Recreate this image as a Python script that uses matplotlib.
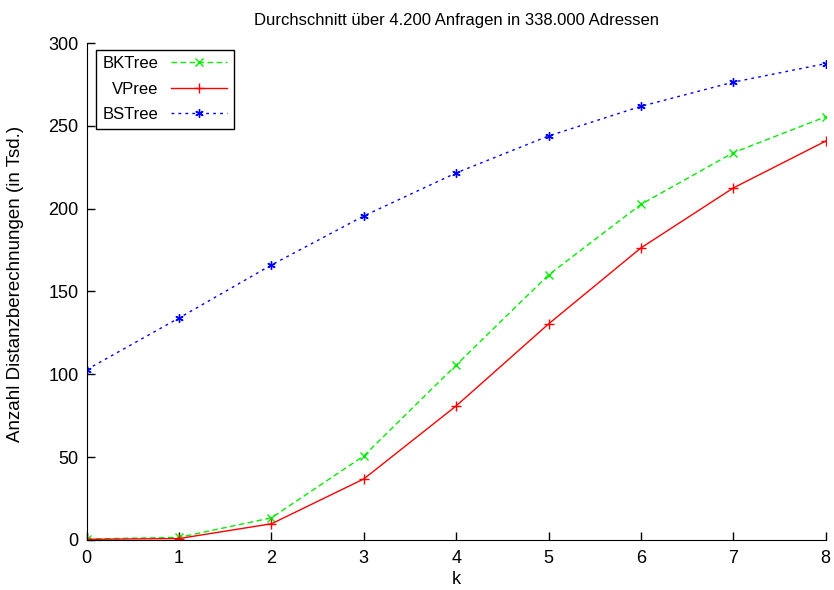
import matplotlib
matplotlib.use("Agg")
import matplotlib.pyplot as plt

# Daten (in Tsd. Distanzberechnungen)
k = [0, 1, 2, 3, 4, 5, 6, 7, 8]
bktree = [0.5, 1.5, 13.3, 50.7, 105.6, 160.0, 202.6, 233.8, 255.5]
vpree = [0.3, 0.8, 9.7, 36.8, 80.9, 130.4, 176.3, 212.5, 240.8]
bstree = [102.8, 134.0, 166.0, 195.6, 221.6, 243.9, 261.8, 276.4, 287.6]

plt.rcParams['font.family'] = ['Liberation Sans', 'DejaVu Sans']

fig = plt.figure(figsize=(8.34, 5.90), dpi=100)
ax = fig.add_axes([0.104, 0.085, 0.886, 0.842])

ax.plot(k, bktree, color='#00ee00', linestyle=(0, (4, 2.5)), linewidth=1,
        marker='x', markersize=6, markeredgewidth=1, label='BKTree')
ax.plot(k, vpree, color='#ff0000', linestyle='-', linewidth=1,
        marker='+', markersize=7, markeredgewidth=1, label='VPree')
ax.plot(k, bstree, color='#0000ff', linestyle=(0, (2, 3)), linewidth=1,
        marker=(6, 2, 0), markersize=6, markeredgewidth=1, label='BSTree')

ax.set_xlim(0, 8)
ax.set_ylim(0, 300)
ax.set_xticks(range(0, 9))
ax.set_yticks(range(0, 301, 50))
ax.tick_params(direction='in', length=6, width=1, labelsize=13)
ax.tick_params(axis='x', pad=7)
ax.tick_params(axis='y', pad=6)
ax.spines['top'].set_visible(False)
ax.spines['right'].set_visible(False)

ax.set_xlabel('k', fontsize=13, labelpad=3)
ax.set_ylabel('Anzahl Distanzberechnungen (in Tsd.)', fontsize=13.5)
ax.yaxis.set_label_coords(-0.085, 0.515)
ax.set_title('Durchschnitt über 4.200 Anfragen in 338.000 Adressen', fontsize=12, pad=13)

leg = ax.legend(loc='upper left', bbox_to_anchor=(0.012, 0.987), markerfirst=False,
                fancybox=False, edgecolor='black', framealpha=1, fontsize=12,
                handlelength=3.4, borderpad=0.4, labelspacing=0.62,
                handletextpad=0.75, borderaxespad=0.0)
leg.get_frame().set_linewidth(1)

fig.savefig('out.png', dpi=100)
